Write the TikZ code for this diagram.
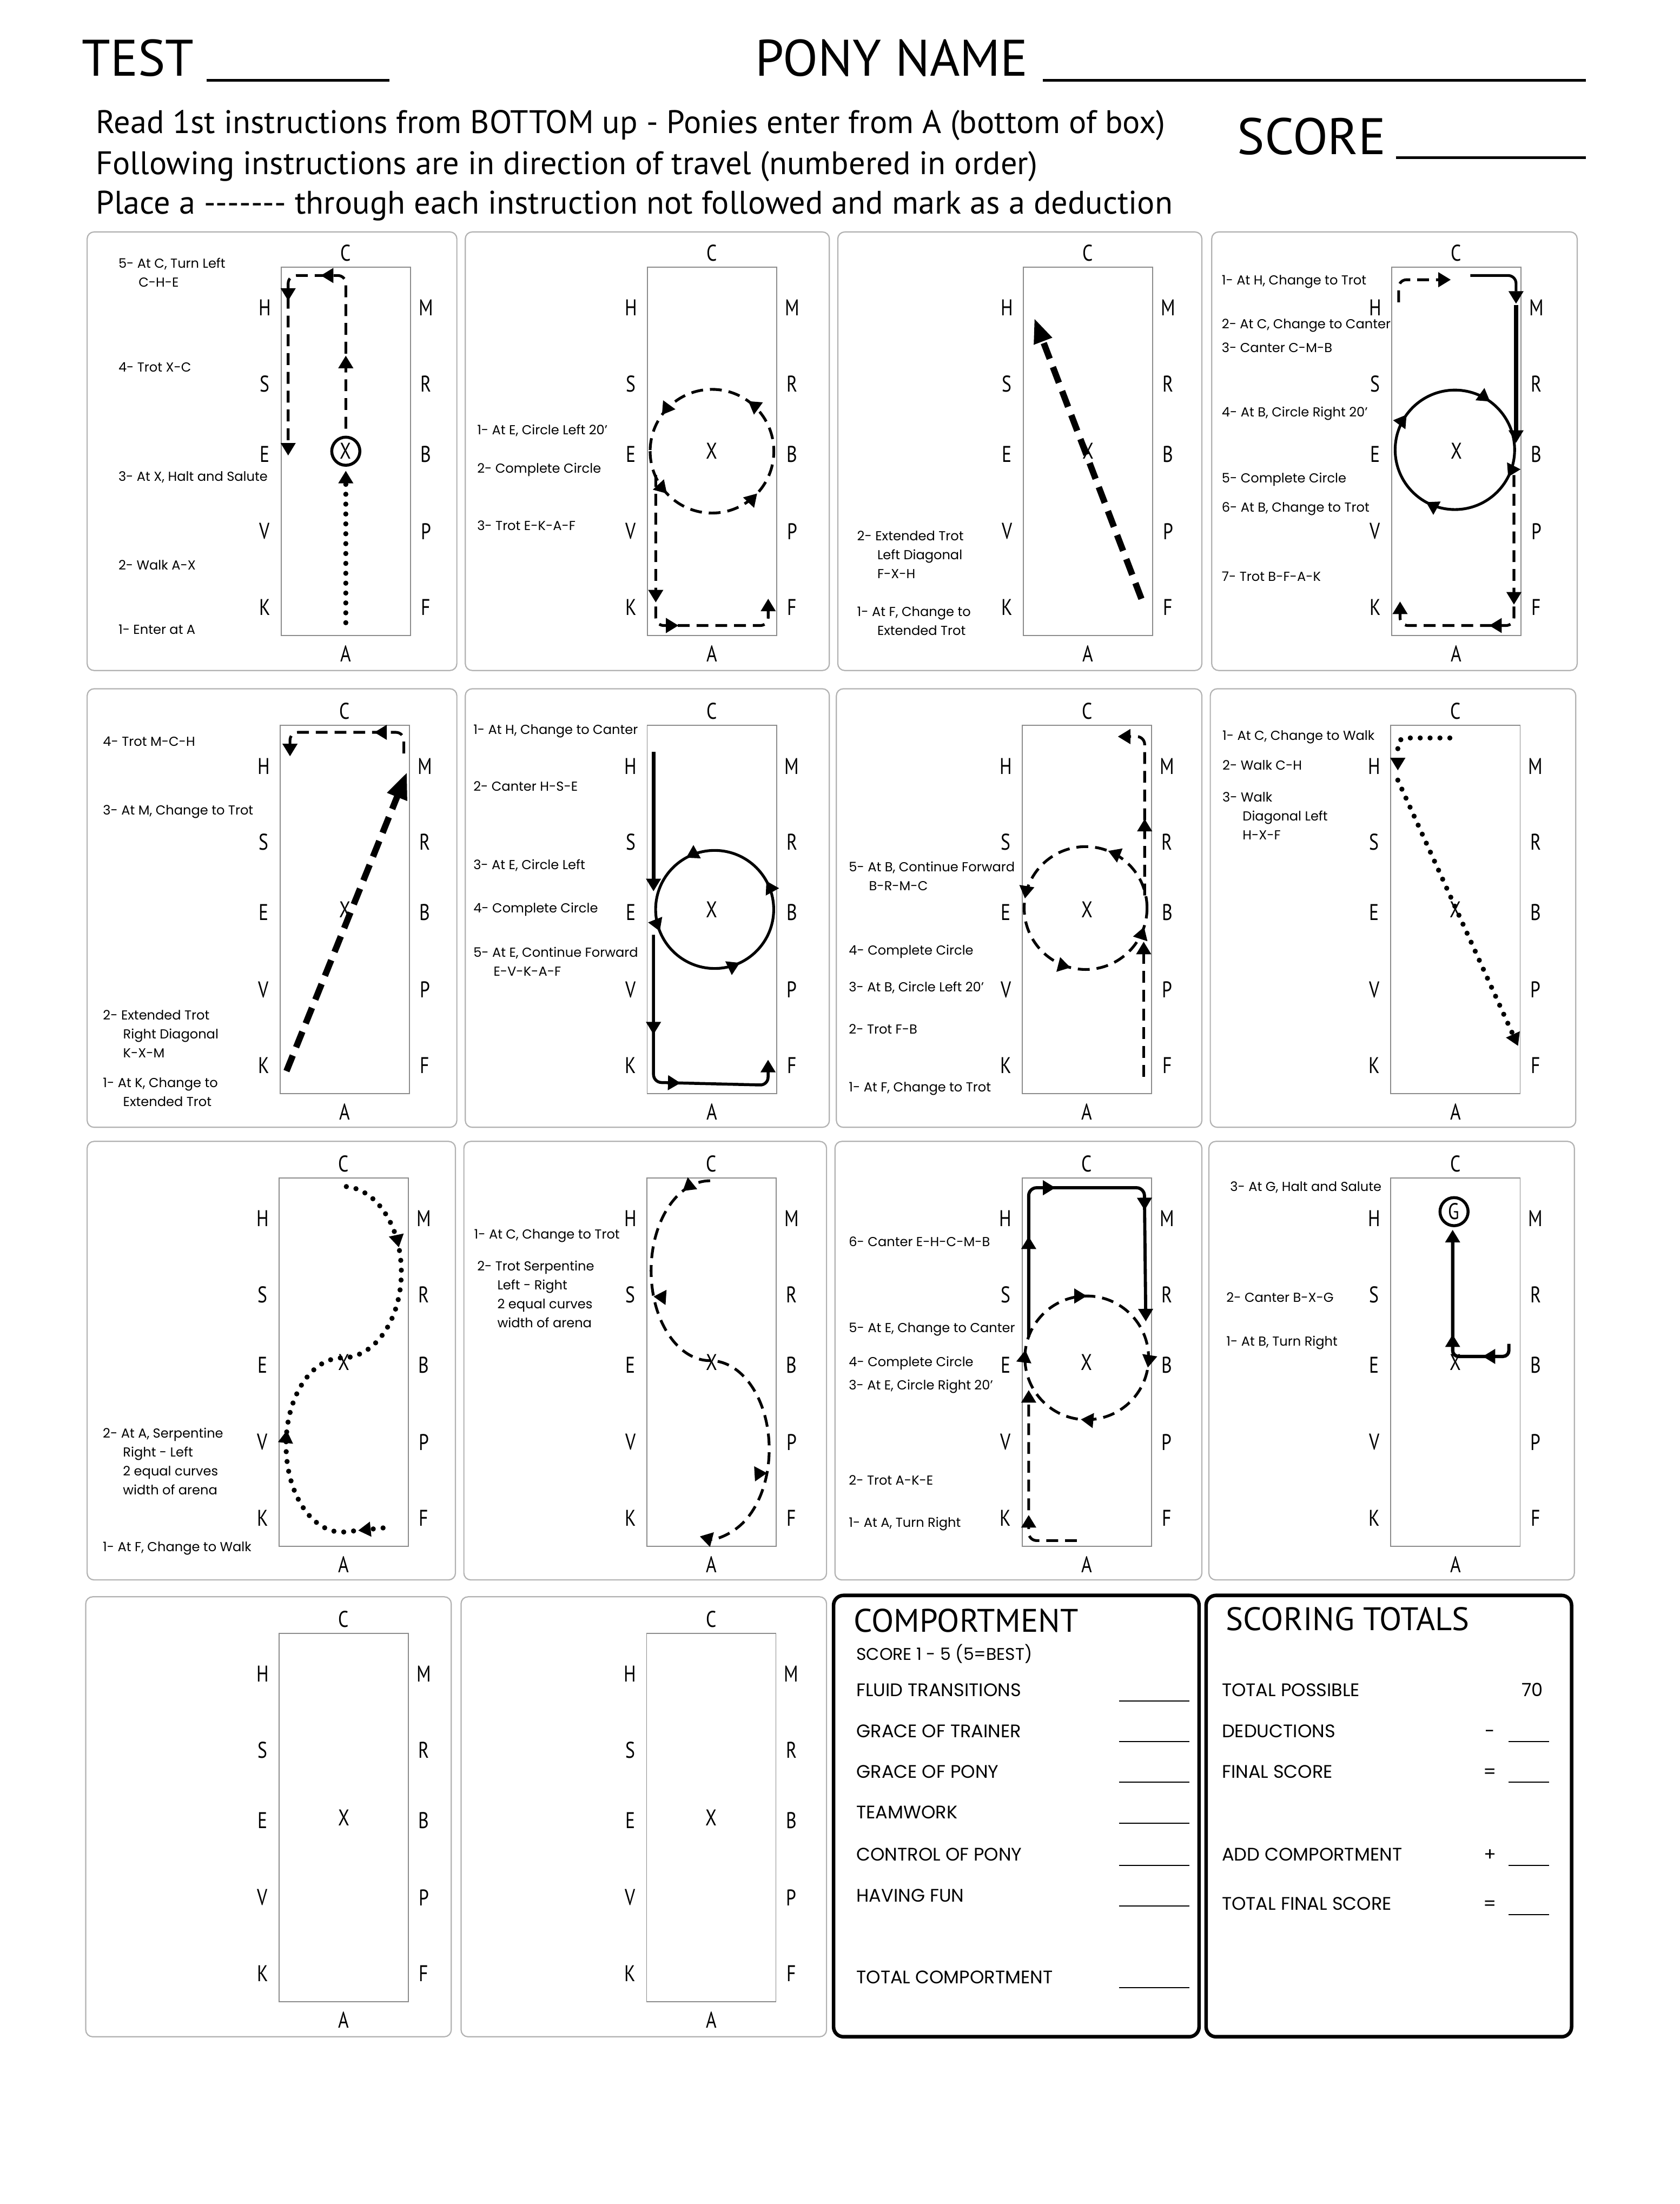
\documentclass[tikz,border=0pt]{standalone}
\usepackage{fontspec}
\setmainfont{PT Sans}
\newfontfamily\notefont{Poppins}
\newfontfamily\letterfont[FakeStretch=0.8]{PT Sans}
\usetikzlibrary{arrows.meta,decorations.markings}

\newcommand\noteindent{\hspace*{10.2pt}}
\newcommand\arenabox{%
  \draw[arena] (0,0) rectangle (92,262);
  \node[letter] (C) at (46,-10) {C};
  \node[letter] (A) at (46,275) {A};
  \foreach \lft/\rgt/\yy in {H/M/29,S/R/83,E/B/133,V/P/188,K/F/242}{
    \node[letter] (\lft) at (-11.7,\yy) {\lft};
    \node[letter] (\rgt) at (103,\yy) {\rgt};
  }
  \node[letter] (X) at (46,131) {X};
}

\tikzset{
  >={Triangle[length=6.3pt,width=7.6pt,line width=0.4pt]},
  panel/.style={draw=black!30, line width=0.6pt, rounded corners=3.5pt},
  arena/.style={draw=black!45, line width=0.5pt},
  letter/.style={font=\letterfont\fontsize{11.5}{11.5}\selectfont, inner sep=0pt},
  note/.style={font=\notefont\fontsize{6.6}{9.6}\selectfont, align=left, anchor=north west, inner sep=0pt, yshift=2.6pt},
  walk/.style={line width=2.6pt, line cap=round, dash pattern=on 0pt off 5pt},
  trot/.style={line width=1.4pt, dash pattern=on 6pt off 3.5pt},
  extended/.style={line width=3.2pt, dash pattern=on 8.5pt off 4.5pt},
  canter/.style={line width=1.4pt},
  halt/.style={line width=1.5pt},
  arrowat/.style={postaction={decorate, decoration={markings, mark=at position #1 with {\arrow{>}}}}},
  arrowback/.style={postaction={decorate, decoration={markings, mark=at position #1 with {\arrowreversed{>}}}}},
  arrowturn/.style 2 args={postaction={decorate, decoration={markings, mark=at position #1 with {\pgftransformrotate{#2}\arrow{>}}}}},
  title/.style={font=\fontsize{26}{30}\selectfont, anchor=base west, inner sep=0pt},
  sub/.style={font=\fontsize{16.5}{19}\selectfont, anchor=base west, inner sep=0pt},
  blank/.style={line width=1.4pt},
  thinblank/.style={line width=0.6pt},
  scorebox/.style={draw, line width=1.8pt, rounded corners=5pt},
  boxhead/.style={font=\fontsize{16.5}{18}\selectfont, anchor=base west, inner sep=0pt},
  item/.style={font=\notefont\fontsize{9.2}{10}\selectfont, anchor=base west, inner sep=0pt},
}

\begin{document}
\begin{tikzpicture}[x=0.025cm, y=-0.025cm]
  \useasboundingbox (0,0) rectangle (1195,1568);
  \fill[white] (0,0) rectangle (1195,1568);

  % header
  \node[title] (test) at (58,54) {TEST};
  \draw[blank] (147,57) -- (277,57);
  \node[title] (pony) at (537,54) {PONY NAME};
  \draw[blank] (742,57) -- (1128,57);
  \node[title] (score) at (880,110) {SCORE};
  \draw[blank] (993,112) -- (1128,112);
  \node[sub] (read) at (68,95) {Read 1st instructions from BOTTOM up - Ponies enter from A (bottom of box)};
  \node[sub] (follow) at (68,124) {Following instructions are in direction of travel (numbered in order)};
  \node[sub] (place) at (68,152) {Place a -{}-{}-{}-{}-{}-{}- through each instruction not followed and mark as a deduction};

  % panel 1
  \draw[panel] (62,165) rectangle (325,477);
  \begin{scope}[shift={(200,190)}, name prefix=p1-]
    \arenabox
    \draw[walk, ->] (46,253) -- (46,145);
    \draw[halt] (X) circle (10);
    \draw[trot, rounded corners=4pt, arrowat=0.19, arrowat=0.455, arrowat=0.597, ->] (46,115) -- (46,6) -- (5,6) -- (5,134);
  \end{scope}
  \node[note] (p1-n5) at (84,187) {5- At C, Turn Left\\\noteindent C-H-E};
  \node[note] (p1-n4) at (84,261.4) {4- Trot X-C};
  \node[note] (p1-n3) at (84,338.7) {3- At X, Halt and Salute};
  \node[note] (p1-n2) at (84,402) {2- Walk A-X};
  \node[note] (p1-n1) at (84,448) {1- Enter at A};

  % panel 2
  \draw[panel] (331,165) rectangle (590,477);
  \begin{scope}[shift={(460.5,190)}, name prefix=p2-]
    \arenabox
    \draw[trot, arrowat=0.12, arrowat=0.38, arrowat=0.65, arrowat=0.9] (2,131) arc[start angle=180, end angle=-180, radius=44];
    \draw[trot, rounded corners=4pt, arrowat=0.45, arrowat=0.6, ->] (6,148) -- (6,255) -- (86,255) -- (86,236);
  \end{scope}
  \node[note] (p2-n1) at (339.2,305.6) {1- At E, Circle Left 20’};
  \node[note] (p2-n2) at (339.2,332.7) {2- Complete Circle};
  \node[note] (p2-n3) at (339.2,373.8) {3- Trot E-K-A-F};

  % panel 3
  \draw[panel] (596,165) rectangle (855,477);
  \begin{scope}[shift={(728,190)}, name prefix=p3-]
    \arenabox
    \draw[extended, -{Triangle[length=12pt,width=10pt,line width=0.4pt]}] (84,236) -- (8,37);
  \end{scope}
  \node[note] (p3-n2) at (609.5,380.9) {2- Extended Trot\\\noteindent Left Diagonal\\\noteindent F-X-H};
  \node[note] (p3-n1) at (609.5,435) {1- At F, Change to\\\noteindent Extended Trot};

  % panel 4
  \draw[panel] (862,165) rectangle (1122,477);
  \begin{scope}[shift={(990,190)}, name prefix=p4-]
    \arenabox
    \draw[trot, rounded corners=4pt, ->] (5,25) -- (5,9) -- (42,9);
    \draw[canter, rounded corners=4pt, ->] (56,6) -- (88.5,6) -- (88.5,26);
    \draw[canter, line width=2pt, ->] (88.5,27) -- (88.5,125);
    \draw[canter, arrowat=0.075, arrowat=0.33, arrowat=0.6, arrowat=0.85] (87.5,130) arc[start angle=0, end angle=360, radius=42.5];
    \draw[trot, rounded corners=4pt, arrowat=0.46, arrowat=0.61, ->] (87,148) -- (87,255) -- (6,255) -- (6,238);
  \end{scope}
  \node[note] (p4-n1) at (868.9,199) {1- At H, Change to Trot};
  \node[note] (p4-n2) at (868.9,230.3) {2- At C, Change to Canter};
  \node[note] (p4-n3) at (868.9,247.3) {3- Canter C-M-B};
  \node[note] (p4-n4) at (868.9,292.9) {4- At B, Circle Right 20’};
  \node[note] (p4-n5) at (868.9,339.7) {5- Complete Circle};
  \node[note] (p4-n6) at (868.9,360.8) {6- At B, Change to Trot};
  \node[note] (p4-n7) at (868.9,410) {7- Trot B-F-A-K};

  % panel 5
  \draw[panel] (62,490) rectangle (325,802);
  \begin{scope}[shift={(199.3,516)}, name prefix=p5-]
    \arenabox
    \draw[extended, -{Triangle[length=13pt,width=11pt,line width=0.4pt]}] (4.5,246) -- (90,34);
    \draw[trot, rounded corners=4pt, arrowat=0.31, ->] (88,20) -- (88,5) -- (7,5) -- (7,22);
  \end{scope}
  \node[note] (p5-n4) at (73,527.6) {4- Trot M-C-H};
  \node[note] (p5-n3) at (73,576) {3- At M, Change to Trot};
  \node[note] (p5-n2) at (73,722) {2- Extended Trot\\\noteindent Right Diagonal\\\noteindent K-X-M};
  \node[note] (p5-n1) at (73,770) {1- At K, Change to\\\noteindent Extended Trot};

  % panel 6
  \draw[panel] (331,490) rectangle (590,802);
  \begin{scope}[shift={(460.4,516)}, name prefix=p6-]
    \arenabox
    \draw[canter, line width=1.8pt, ->] (4.5,19) -- (4.5,118);
    \draw[canter, arrowat=0.06, arrowat=0.32, arrowat=0.58, arrowat=0.83] (6,131) arc[start angle=180, end angle=-180, radius=42];
    \draw[canter, line width=1.5pt, rounded corners=4pt, arrowat=0.355, arrowat=0.61, ->] (4.5,149) -- (4.5,254) -- (86,256) -- (86,238);
  \end{scope}
  \node[note] (p6-n1) at (336.5,519) {1- At H, Change to Canter};
  \node[note] (p6-n2) at (336.5,559.3) {2- Canter H-S-E};
  \node[note] (p6-n3) at (336.5,614.9) {3- At E, Circle Left};
  \node[note] (p6-n4) at (336.5,645.6) {4- Complete Circle};
  \node[note] (p6-n5) at (336.5,677.3) {5- At E, Continue Forward\\\noteindent E-V-K-A-F};

  % panel 7
  \draw[panel] (595,490) rectangle (855,802);
  \begin{scope}[shift={(727.3,516)}, name prefix=p7-]
    \arenabox
    \draw[trot, ->] (86.3,250) -- (86.3,154);
    \draw[trot, arrowat=0.19, arrowat=0.475, arrowat=0.71, arrowat=0.95] (88.7,130) arc[start angle=0, end angle=-360, radius=43.7];
    \draw[trot, rounded corners=4pt, arrowat=0.42, ->] (87,121) -- (87,8) -- (68,8);
  \end{scope}
  \node[note] (p7-n5) at (603.6,616.5) {5- At B, Continue Forward\\\noteindent B-R-M-C};
  \node[note] (p7-n4) at (603.6,675.7) {4- Complete Circle};
  \node[note] (p7-n3) at (603.6,701.8) {3- At B, Circle Left 20’};
  \node[note] (p7-n2) at (603.6,732) {2- Trot F-B};
  \node[note] (p7-n1) at (603.6,773) {1- At F, Change to Trot};

  % panel 8
  \draw[panel] (861,490) rectangle (1121,802);
  \begin{scope}[shift={(989.4,516)}, name prefix=p8-]
    \arenabox
    \draw[walk, rounded corners=4pt, ->] (42,9) -- (5,9) -- (5,32);
    \draw[walk, ->] (5,39) -- (90.5,228);
  \end{scope}
  \node[note] (p8-n1) at (869.4,523) {1- At C, Change to Walk};
  \node[note] (p8-n2) at (869.4,544.2) {2- Walk C-H};
  \node[note] (p8-n3) at (869.4,566.9) {3- Walk\\\noteindent Diagonal Left\\\noteindent H-X-F};

  % panel 9
  \draw[panel] (62,812) rectangle (324,1124);
  \begin{scope}[shift={(198.5,838)}, name prefix=p9-]
    \arenabox
    \draw[walk, arrowat=0.05, arrowat=0.34, arrowback=0.82] (74,249) -- (45,252)
      arc[start angle=90, end angle=270, x radius=40, y radius=62]
      arc[start angle=90, end angle=-90, x radius=42, y radius=61];
  \end{scope}
  \node[note] (p9-n2) at (72.9,1019.2) {2- At A, Serpentine\\\noteindent Right - Left\\\noteindent 2 equal curves\\\noteindent width of arena};
  \node[note] (p9-n1) at (72.9,1100.2) {1- At F, Change to Walk};

  % panel 10
  \draw[panel] (330,812) rectangle (588,1124);
  \begin{scope}[shift={(460.2,838)}, name prefix=p10-]
    \arenabox
    \draw[trot, arrowat=0.062, arrowturn={0.30}{-105}, arrowturn={0.785}{104}, ->] (45,2)
      arc[start angle=270, end angle=90, x radius=42, y radius=64]
      arc[start angle=-90, end angle=100, x radius=42, y radius=63];
  \end{scope}
  \node[note] (p10-n1) at (337,877.7) {1- At C, Change to Trot};
  \node[note] (p10-n2) at (339.2,900.4) {2- Trot Serpentine\\\noteindent Left - Right\\\noteindent 2 equal curves\\\noteindent width of arena};

  % panel 11
  \draw[panel] (594,812) rectangle (855,1124);
  \begin{scope}[shift={(727.1,838)}, name prefix=p11-]
    \arenabox
    \draw[trot, rounded corners=4pt, arrowat=0.36, ->] (39,258) -- (4.7,258) -- (4.7,151);
    \draw[trot, arrowat=0.02, arrowat=0.25, arrowat=0.525, arrowat=0.765] (2,128) arc[start angle=180, end angle=540, radius=44];
    \draw[canter, line width=1.6pt, rounded corners=4pt, arrowat=0.256, arrowat=0.44, arrowat=0.716, ->] (4.7,113) -- (4.7,7) -- (87,7) -- (88,102);
  \end{scope}
  \node[note] (p11-n6) at (603.6,883.3) {6- Canter E-H-C-M-B};
  \node[note] (p11-n5) at (603.6,944.5) {5- At E, Change to Canter};
  \node[note] (p11-n4) at (603.6,968.6) {4- Complete Circle};
  \node[note] (p11-n3) at (603.6,985.1) {3- At E, Circle Right 20’};
  \node[note] (p11-n2) at (603.6,1053) {2- Trot A-K-E};
  \node[note] (p11-n1) at (603.6,1082.7) {1- At A, Turn Right};

  % panel 12
  \draw[panel] (860,812) rectangle (1120,1124);
  \begin{scope}[shift={(989.4,838)}, name prefix=p12-]
    \arenabox
    \node[letter] (G) at (45,24) {G};
    \draw[halt] (G) circle (10);
    \draw[canter, line width=1.7pt, rounded corners=3pt, arrowat=0.19, arrowat=0.45, ->] (84,118) -- (84,127) -- (44,127) -- (44,37);
  \end{scope}
  \node[note] (p12-n3) at (874.9,844.1) {3- At G, Halt and Salute};
  \node[note] (p12-n2) at (872.2,923) {2- Canter B-X-G};
  \node[note] (p12-n1) at (872.2,954) {1- At B, Turn Right};

  % blank panels
  \draw[panel] (61,1136) rectangle (321,1449);
  \begin{scope}[shift={(198.5,1162)}, name prefix=p13-]
    \arenabox
  \end{scope}
  \draw[panel] (328,1136) rectangle (588,1449);
  \begin{scope}[shift={(460,1162)}, name prefix=p14-]
    \arenabox
  \end{scope}

  % comportment
  \draw[scorebox] (593,1135) rectangle (853,1449);
  \node[boxhead] (comp) at (607,1161) {COMPORTMENT};
  \node[item, font=\notefont\fontsize{8.6}{9}\selectfont] (range) at (609,1181) {SCORE 1 - 5 (5=BEST)};
  \foreach \txt/\yy [count=\i] in {FLUID TRANSITIONS/1207, GRACE OF TRAINER/1236, GRACE OF PONY/1265,
      TEAMWORK/1294, CONTROL OF PONY/1324, HAVING FUN/1353, TOTAL COMPORTMENT/1411}{
    \node[item] (comp\i) at (609,\yy) {\txt};
    \draw[thinblank] (796,\yy+3) -- (846,\yy+3);
  }

  % scoring totals
  \draw[scorebox] (858,1135) rectangle (1118,1449);
  \node[boxhead] (tot) at (872,1160) {SCORING TOTALS};
  \node[item] (tot1) at (869,1207) {TOTAL POSSIBLE};
  \node[item, anchor=base east] (tot1v) at (1098,1207) {70};
  \foreach \txt/\sgn/\yy [count=\i from 2] in {DEDUCTIONS/-/1236, FINAL SCORE/=/1265,
      ADD COMPORTMENT/+/1324, TOTAL FINAL SCORE/=/1359}{
    \node[item] (tot\i) at (869,\yy) {\txt};
    \node[item, anchor=base] (sgn\i) at (1060,\yy) {\sgn};
    \draw[thinblank] (1073,\yy+3) -- (1102,\yy+3);
  }
\end{tikzpicture}
\end{document}
